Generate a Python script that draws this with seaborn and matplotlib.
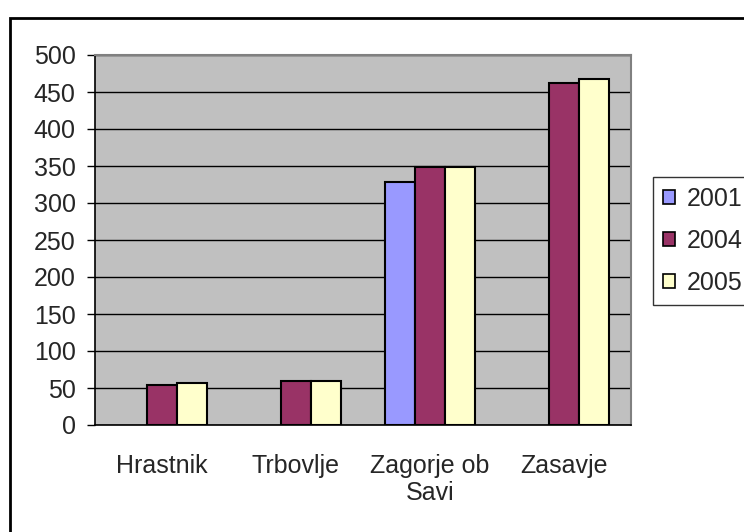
import matplotlib
matplotlib.use("Agg")
import matplotlib.pyplot as plt
import seaborn as sns
import pandas as pd
import numpy as np
from matplotlib.patches import Rectangle

categories = ["Hrastnik", "Trbovlje", "Zagorje ob\nSavi", "Zasavje"]
years = ["2001", "2004", "2005"]
v2001 = [np.nan, np.nan, 329, np.nan]
v2004 = [54, 60, 349, 462]
v2005 = [57, 60, 349, 467]
colors = ["#9999FF", "#993366", "#FFFFCC"]
yticks = list(range(0, 501, 50))

rows = []
for yr, vals in zip(years, [v2001, v2004, v2005]):
    for c, v in zip(categories, vals):
        rows.append({"cat": c, "year": yr, "val": v})
df = pd.DataFrame(rows)

sns.set_style("white")
plt.rcParams['font.family'] = ['Liberation Sans', 'DejaVu Sans']
FS = 18

fig = plt.figure(figsize=(7.44, 5.32), dpi=100)
W, H = 744, 532
ax = fig.add_axes([95 / W, 1 - 425 / H, (631 - 95) / W, (425 - 55) / H])

sns.barplot(data=df, x="cat", y="val", hue="year", order=categories,
            hue_order=years, palette=colors, width=0.67, edgecolor="black",
            linewidth=1.5, saturation=1, ax=ax, legend=True, errorbar=None)

ax.set_facecolor("#C0C0C0")
ax.set_ylim(0, 500)
ax.set_xlim(-0.5, 3.5)
ax.set_yticks(yticks)
ax.set_yticklabels([str(t) for t in yticks], fontsize=FS)
ax.yaxis.grid(True, color="black", linewidth=1)
ax.set_axisbelow(True)
ax.set_xlabel("")
ax.set_ylabel("")
ax.set_xticks(range(len(categories)))
ax.set_xticklabels(categories, fontsize=FS, linespacing=1.15)
ax.set_xticks(np.arange(-0.5, 4, 1), minor=True)
ax.tick_params(axis="x", which="major", length=0, pad=21)
ax.tick_params(axis="x", which="minor", length=6, width=1, color="black", direction="out")
ax.tick_params(axis="y", length=6, width=1, color="black", direction="out", pad=8, left=True)
for s in ["left", "bottom"]:
    ax.spines[s].set_color("black")
    ax.spines[s].set_linewidth(1.2)
for s in ["top", "right"]:
    ax.spines[s].set_color("#808080")
    ax.spines[s].set_linewidth(1.5)

ax.get_legend().remove()
handles = [Rectangle((0, 0), 1, 1, facecolor=c, edgecolor="black", linewidth=1.2) for c in colors]
leg = fig.legend(handles, years, loc="upper left", bbox_to_anchor=(653 / W, 1 - 177 / H),
                 fontsize=FS, frameon=True, fancybox=False, edgecolor="black",
                 handlelength=0.48, handleheight=0.48, handletextpad=0.45,
                 labelspacing=0.72, borderpad=0.4, borderaxespad=0)
leg.get_frame().set_linewidth(1)

# outer chart frame
fig.patches.append(Rectangle((10 / W, -0.1), 1.2, 1 - 18 / H + 0.1, transform=fig.transFigure,
                             fill=False, edgecolor="black", linewidth=2, zorder=-1))

fig.savefig("out.png", dpi=100)
